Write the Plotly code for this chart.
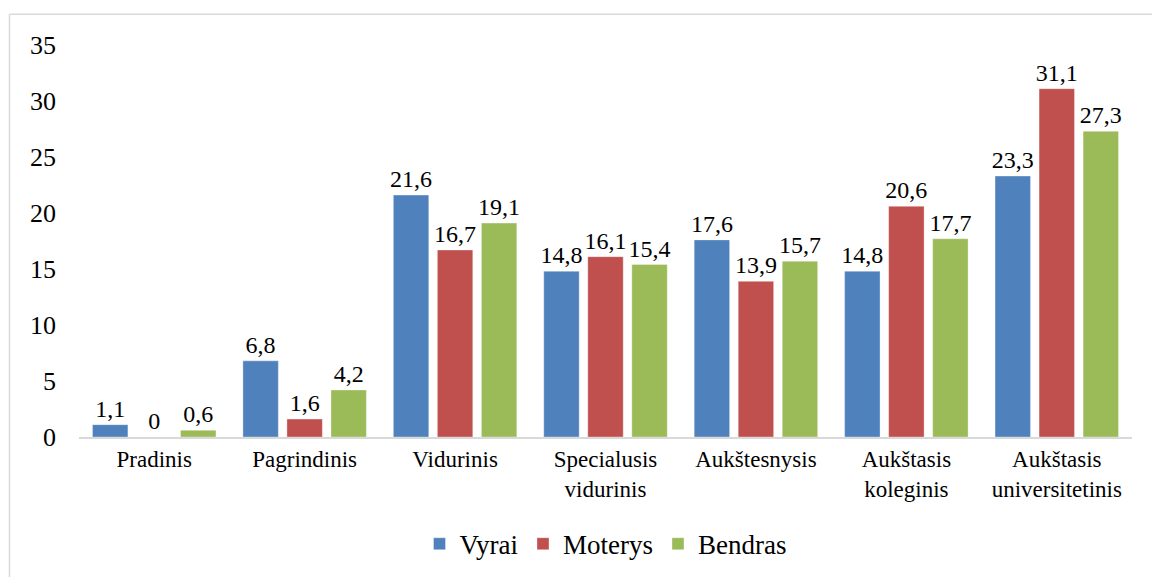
import plotly.graph_objects as go

categories = ["Pradinis", "Pagrindinis", "Vidurinis", "Specialusis<br>vidurinis",
              "Aukštesnysis", "Aukštasis<br>koleginis", "Aukštasis<br>universitetinis"]
vyrai = [1.1, 6.8, 21.6, 14.8, 17.6, 14.8, 23.3]
moterys = [0, 1.6, 16.7, 16.1, 13.9, 20.6, 31.1]
bendras = [0.6, 4.2, 19.1, 15.4, 15.7, 17.7, 27.3]
y_ticks = [0, 5, 10, 15, 20, 25, 30, 35]

def fmt(v):
    return ("%g" % v).replace(".", ",")

series = [("Vyrai", vyrai, "#4F81BD"), ("Moterys", moterys, "#C0504D"), ("Bendras", bendras, "#9BBB59")]

FONT = "Times New Roman"
fig = go.Figure()
for name, vals, col in series:
    fig.add_trace(go.Bar(
        x=categories, y=vals, name=name,
        marker=dict(color=col, line=dict(color="rgba(255,255,255,0.35)", width=1)),
        text=[fmt(v) for v in vals], textposition="outside",
        textfont=dict(family=FONT, size=24, color="black"),
        constraintext="none",
        cliponaxis=False,
    ))

W, H = 1152, 581
L, R, T, B = 79, 20, 45, 141
pw, ph = W - L - R, H - T - B
def px(x): return (x - L) / pw
def py(y): return (H - B - y) / ph

fig.update_layout(
    width=W, height=H,
    margin=dict(l=L, r=R, t=T, b=B),
    paper_bgcolor="white", plot_bgcolor="white",
    barmode="group", bargap=0.122, bargroupgap=0.195,
    font=dict(family=FONT, size=24, color="black"),
    showlegend=True,
    legend=dict(orientation="h", x=0.5, xanchor="center", y=py(548), yanchor="middle",
                font=dict(family=FONT, size=27, color="black"), itemwidth=30,
                traceorder="normal", bgcolor="rgba(0,0,0,0)"),
    xaxis=dict(showgrid=False, showline=True, linecolor="#D9D9D9", linewidth=2,
               automargin=False, zeroline=False,
               ticks="", tickfont=dict(family=FONT, size=23, color="black")),
    yaxis=dict(range=[0, 35], tickvals=y_ticks, ticktext=[str(t) for t in y_ticks],
               automargin=False,
               showgrid=False, showline=False, zeroline=False, ticks="",
               ticklabelstandoff=22,
               tickfont=dict(family=FONT, size=26, color="black")),
    shapes=[
        dict(type="line", xref="paper", yref="paper", x0=px(9.5), x1=px(1152), y0=py(14), y1=py(14),
             line=dict(color="#D9D9D9", width=1.5)),
        dict(type="line", xref="paper", yref="paper", x0=px(9.5), x1=px(9.5), y0=py(14), y1=py(581),
             line=dict(color="#D9D9D9", width=1.5)),
    ],
)
post = """
document.body.style.margin='0';
var st = document.createElement('style');
st.textContent = ".main-svg text, .main-svg tspan { font-family: 'Liberation Serif', 'Times New Roman', serif !important; }";
document.head.appendChild(st);
"""
fig.write_html("out.html", config={"displayModeBar": False}, post_script=post)
